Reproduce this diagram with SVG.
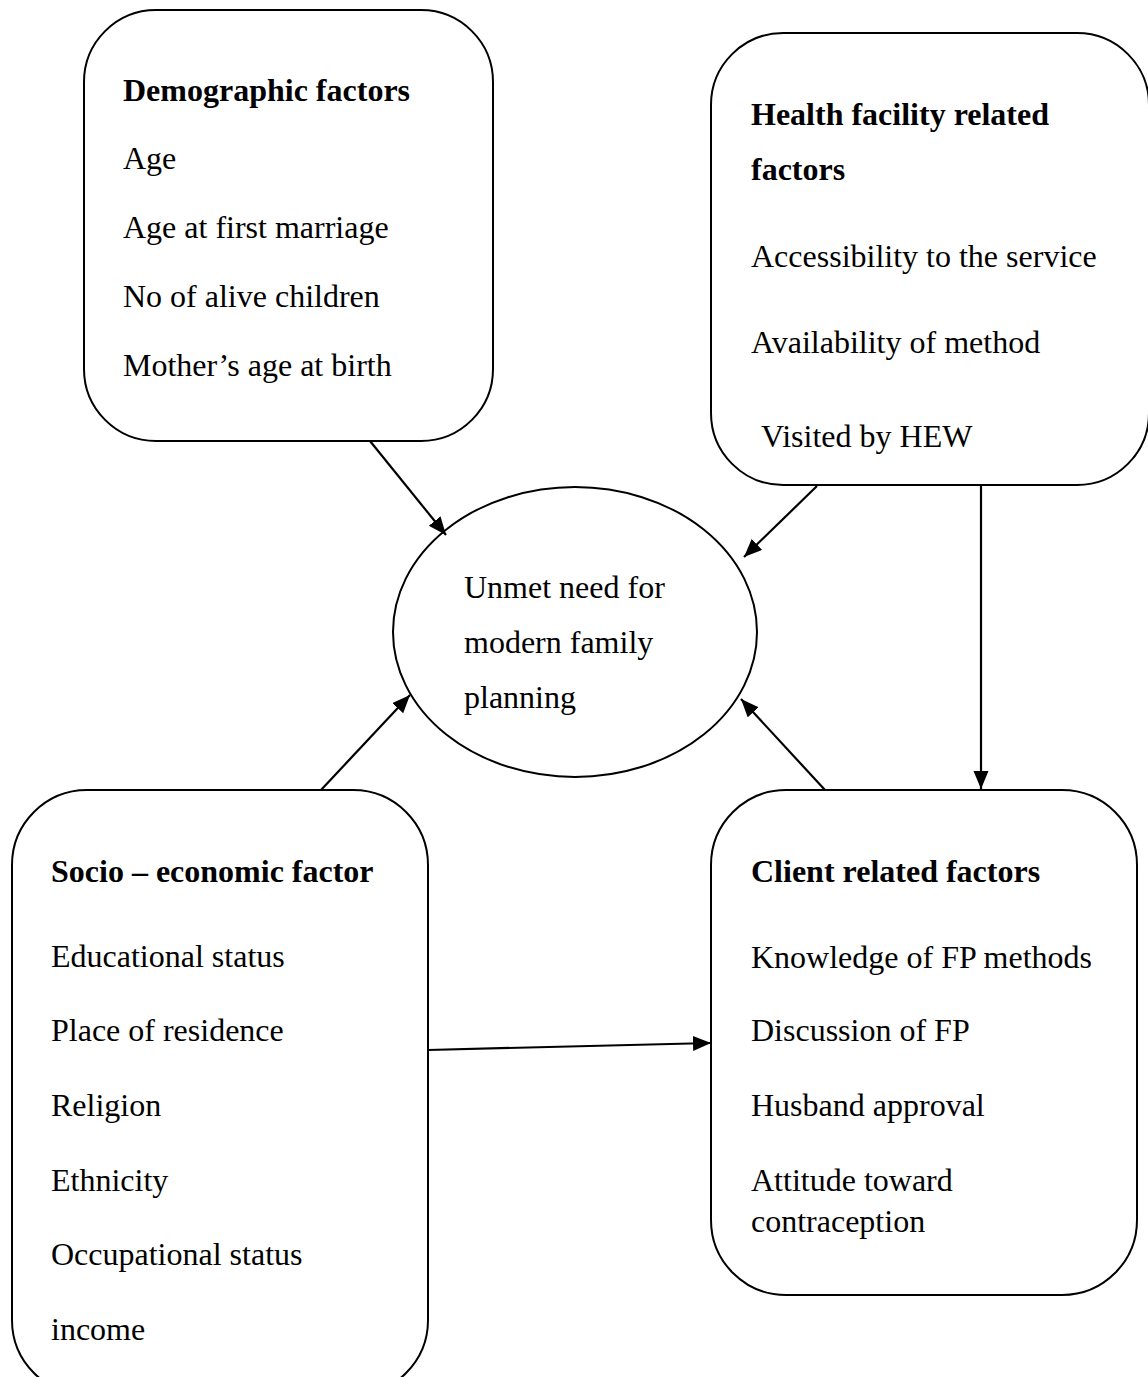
<svg xmlns="http://www.w3.org/2000/svg" width="1148" height="1377" viewBox="0 0 1148 1377">
<style>
.box{fill:#fff;stroke:#000;stroke-width:2}
.t{font-family:"Liberation Serif","Times New Roman",serif;font-size:32px;fill:#000}
.b{font-weight:bold}
.c{stroke:#000;stroke-width:2.2;fill:none}
</style>
<defs>
<marker id="ah" markerUnits="userSpaceOnUse" markerWidth="20" markerHeight="16" refX="18" refY="7.5" orient="auto">
<path d="M0,0 L18,7.5 L0,15 z" fill="#000"/>
</marker>
</defs>
<rect width="1148" height="1377" fill="#fff"/>
<g id="demographic">
<rect class="box" x="84" y="10" width="409" height="431" rx="72" ry="72"/>
<text class="t b" x="123" y="101">Demographic factors</text>
<text class="t" x="123" y="169">Age</text>
<text class="t" x="123" y="238">Age at first marriage</text>
<text class="t" x="123" y="307">No of alive children</text>
<text class="t" x="123" y="376">Mother’s age at birth</text>
</g>
<g id="health">
<rect class="box" x="711" y="33" width="438" height="452" rx="72" ry="72"/>
<text class="t b" x="751" y="125">Health facility related</text>
<text class="t b" x="751" y="180">factors</text>
<text class="t" x="751" y="267">Accessibility to the service</text>
<text class="t" x="751" y="353">Availability of method</text>
<text class="t" x="761" y="447">Visited by HEW</text>
</g>
<g id="unmet">
<ellipse class="box" cx="575" cy="632" rx="182" ry="145"/>
<text class="t" x="464" y="598">Unmet need for</text>
<text class="t" x="464" y="653">modern family</text>
<text class="t" x="464" y="708">planning</text>
</g>
<g id="socio">
<rect class="box" x="12" y="790" width="416" height="605" rx="75" ry="75"/>
<text class="t b" x="51" y="882">Socio – economic factor</text>
<text class="t" x="51" y="967">Educational status</text>
<text class="t" x="51" y="1041">Place of residence</text>
<text class="t" x="51" y="1116">Religion</text>
<text class="t" x="51" y="1191">Ethnicity</text>
<text class="t" x="51" y="1265">Occupational status</text>
<text class="t" x="51" y="1340">income</text>
</g>
<g id="client">
<rect class="box" x="711" y="790" width="426" height="505" rx="75" ry="75"/>
<text class="t b" x="751" y="882">Client related factors</text>
<text class="t" x="751" y="968">Knowledge of FP methods</text>
<text class="t" x="751" y="1041">Discussion of FP</text>
<text class="t" x="751" y="1116">Husband approval</text>
<text class="t" x="751" y="1191">Attitude toward</text>
<text class="t" x="751" y="1232">contraception</text>
</g>
<g id="connectors">
<line class="c" x1="370" y1="441" x2="446" y2="535" marker-end="url(#ah)"/>
<line class="c" x1="817" y1="486" x2="744" y2="557" marker-end="url(#ah)"/>
<line class="c" x1="981" y1="486" x2="981" y2="789" marker-end="url(#ah)"/>
<line class="c" x1="321" y1="790" x2="410" y2="695" marker-end="url(#ah)"/>
<line class="c" x1="825" y1="790" x2="741" y2="699" marker-end="url(#ah)"/>
<line class="c" x1="428" y1="1050" x2="711" y2="1043" marker-end="url(#ah)"/>
</g>
</svg>
